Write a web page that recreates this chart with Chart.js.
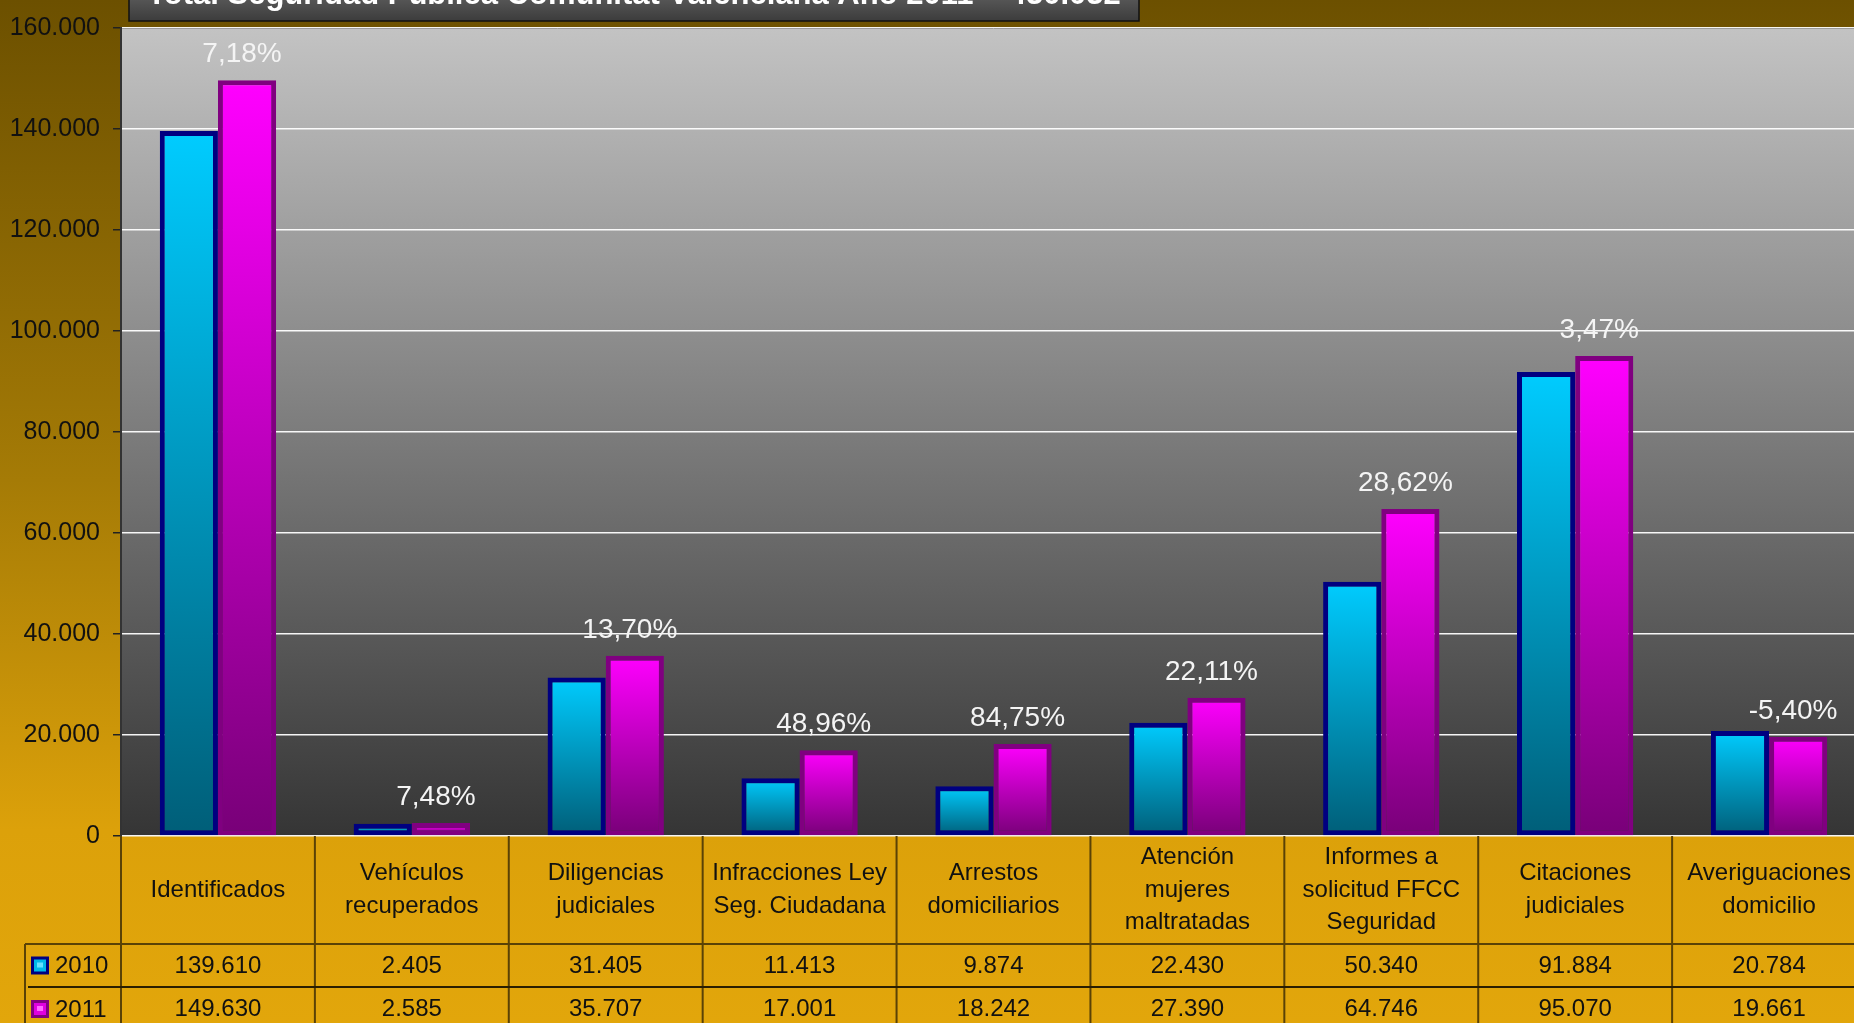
<!DOCTYPE html>
<html>
<head>
<meta charset="utf-8">
<title>Seguridad Pública 2010-2011</title>
<script src="https://cdn.jsdelivr.net/npm/chart.js@4.4.0/dist/chart.umd.min.js"></script>
<style>
  html, body { margin: 0; padding: 0; overflow: hidden; }
  body {
    width: 1854px;
    height: 1023px;
    background: linear-gradient(to bottom, #6c5000 0px, #a57b06 480px, #dca10a 830px, #e2a60b 1023px);
  }
  canvas { display: block; }
</style>
</head>
<body>
<canvas id="chart" width="1866" height="1023"></canvas>
<script>
const categories = [
    ['Identificados'],
    ['Vehículos', 'recuperados'],
    ['Diligencias', 'judiciales'],
    ['Infracciones Ley', 'Seg. Ciudadana'],
    ['Arrestos', 'domiciliarios'],
    ['Atención', 'mujeres', 'maltratadas'],
    ['Informes a', 'solicitud FFCC', 'Seguridad'],
    ['Citaciones', 'judiciales'],
    ['Averiguaciones', 'domicilio']
];
const seriesNames = ['2010', '2011'];
const values2010 = [139610, 2405, 31405, 11413, 9874, 22430, 50340, 91884, 20784];
const values2011 = [149630, 2585, 35707, 17001, 18242, 27390, 64746, 95070, 19661];
const changeLabels = ['7,18%', '7,48%', '13,70%', '48,96%', '84,75%', '22,11%', '28,62%', '3,47%', '-5,40%'];
const yMax = 160000;
const yStep = 20000;
const titleText = 'Total Seguridad Pública Comunitat Valenciana Año 2011 = 430.032';

const FONT = '"Liberation Sans", Arial, sans-serif';

function fmt(n) {
    return String(n).replace(/\B(?=(\d{3})+(?!\d))/g, '.');
}

// degradado por barra: claro arriba, oscuro en la base
function barFill(topColor, bottomColor) {
    return function (ctx) {
        const chart = ctx.chart;
        if (!chart.chartArea || ctx.type !== 'data') return topColor;
        const y = chart.scales.y;
        const y0 = y.getPixelForValue(0);
        const y1 = y.getPixelForValue(ctx.raw);
        if (!isFinite(y0) || !isFinite(y1) || y0 === y1) return topColor;
        const g = chart.ctx.createLinearGradient(0, y1, 0, y0);
        g.addColorStop(0, topColor);
        g.addColorStop(1, bottomColor);
        return g;
    };
}

const backgroundPlugin = {
    id: 'plotBackground',
    beforeDraw(chart) {
        const { ctx, chartArea: a } = chart;
        ctx.save();
        const g = ctx.createLinearGradient(0, a.top, 0, a.bottom);
        g.addColorStop(0, '#c3c3c3');
        g.addColorStop(1, '#353535');
        ctx.fillStyle = g;
        ctx.fillRect(a.left, a.top, a.right - a.left, a.bottom - a.top);
        ctx.strokeStyle = '#444';
        ctx.lineWidth = 1;
        ctx.beginPath();
        ctx.moveTo(a.left, a.top + 0.5);
        ctx.lineTo(a.right, a.top + 0.5);
        ctx.stroke();

        // recuadro del título (cortado por arriba)
        const tg = ctx.createLinearGradient(0, 0, 0, 21);
        tg.addColorStop(0, '#555555');
        tg.addColorStop(1, '#3c3c3c');
        ctx.fillStyle = tg;
        ctx.fillRect(129, -2, 1010, 23);
        ctx.strokeStyle = '#111';
        ctx.lineWidth = 1.5;
        ctx.strokeRect(129, -2, 1010, 23);
        ctx.fillStyle = '#ffffff';
        ctx.font = 'bold 31px ' + FONT;
        ctx.textAlign = 'center';
        ctx.textBaseline = 'alphabetic';
        ctx.fillText(titleText, 634, 4);
        ctx.restore();
    }
};

const labelsPlugin = {
    id: 'changeLabels',
    afterDatasetsDraw(chart) {
        const { ctx } = chart;
        const meta = chart.getDatasetMeta(1);
        ctx.save();
        ctx.fillStyle = '#f4f4f4';
        ctx.font = '28px ' + FONT;
        ctx.textAlign = 'center';
        ctx.textBaseline = 'alphabetic';
        meta.data.forEach((bar, i) => {
            ctx.fillText(changeLabels[i], bar.x - 5, bar.y - 18);
        });
        ctx.restore();
    }
};

const tablePlugin = {
    id: 'dataTable',
    afterDraw(chart) {
        const { ctx, chartArea: a } = chart;
        const x = chart.scales.x;
        const colW = (a.right - a.left) / categories.length;
        const top = a.bottom;
        const row1 = top + 108;
        const row2 = row1 + 43;
        const bottom = chart.height;
        const legendLeft = 25;

        ctx.save();
        ctx.strokeStyle = '#5a4206';
        ctx.lineWidth = 2;
        ctx.beginPath();
        for (let i = 0; i <= categories.length; i++) {
            const lx = a.left + i * colW;
            ctx.moveTo(lx, top);
            ctx.lineTo(lx, bottom);
        }
        ctx.moveTo(legendLeft, row1);
        ctx.lineTo(legendLeft, bottom);
        ctx.moveTo(legendLeft, row1);
        ctx.lineTo(a.right, row1);
        ctx.stroke();
        ctx.strokeStyle = '#2a1e00';
        ctx.beginPath();
        ctx.moveTo(legendLeft + 3, row2);
        ctx.lineTo(a.right, row2);
        ctx.stroke();

        ctx.fillStyle = '#111';
        ctx.font = '24px ' + FONT;
        ctx.textAlign = 'center';
        ctx.textBaseline = 'middle';
        const lh = 32.5;
        categories.forEach((lines, i) => {
            const cx = x.getPixelForValue(i);
            const cy = (top + row1) / 2;
            lines.forEach((t, j) => {
                ctx.fillText(t, cx, cy + (j - (lines.length - 1) / 2) * lh);
            });
            ctx.fillText(fmt(values2010[i]), cx, (row1 + row2) / 2 + 1);
            ctx.fillText(fmt(values2011[i]), cx, row2 + 22);
        });

        // leyenda
        const marks = [
            { y: (row1 + row2) / 2, border: '#000080', fill: '#00b8e8', inner: '#66e0ff' },
            { y: row2 + 22, border: '#800080', fill: '#e000e0', inner: '#ff66ff' }
        ];
        marks.forEach((m, k) => {
            ctx.fillStyle = m.border;
            ctx.fillRect(31, m.y - 9, 18, 18);
            ctx.fillStyle = m.fill;
            ctx.fillRect(34, m.y - 6, 12, 12);
            ctx.fillStyle = m.inner;
            ctx.fillRect(37, m.y - 3, 6, 5);
            ctx.fillStyle = '#111';
            ctx.textAlign = 'left';
            ctx.fillText(seriesNames[k], 55, m.y + 1);
        });
        ctx.restore();
    }
};

const ctx = document.getElementById('chart').getContext('2d');
const chart = new Chart(ctx, {
    type: 'bar',
    data: {
        labels: categories,
        datasets: [{
            label: seriesNames[0],
            data: values2010,
            backgroundColor: barFill('#00ccff', '#005e78'),
            borderColor: '#000080',
            borderWidth: 5,
            borderSkipped: false
        }, {
            label: seriesNames[1],
            data: values2011,
            backgroundColor: barFill('#ff00ff', '#780078'),
            borderColor: '#800080',
            borderWidth: 5,
            borderSkipped: false
        }]
    },
    options: {
        responsive: false,
        animation: false,
        devicePixelRatio: 1,
        categoryPercentage: 0.6,
        barPercentage: 1.0,
        layout: {
            padding: { top: 23, left: 0, right: 0, bottom: 0 }
        },
        plugins: {
            legend: { display: false },
            title: { display: false },
            tooltip: { enabled: false }
        },
        scales: {
            x: {
                grid: { display: false },
                border: { display: false },
                ticks: { display: false },
                afterFit(scale) { scale.height = 187; }
            },
            y: {
                min: 0,
                max: yMax,
                ticks: {
                    stepSize: yStep,
                    padding: 13,
                    color: '#111',
                    font: { family: FONT, size: 25 },
                    callback: (v) => fmt(v)
                },
                grid: {
                    color: 'rgba(255,255,255,0.95)',
                    lineWidth: 1.5,
                    tickColor: '#222',
                    tickLength: 8
                },
                border: { display: true, color: '#333', width: 2 },
                afterFit(scale) { scale.width = 121; }
            }
        }
    },
    plugins: [backgroundPlugin, labelsPlugin, tablePlugin]
});
</script>
</body>
</html>
